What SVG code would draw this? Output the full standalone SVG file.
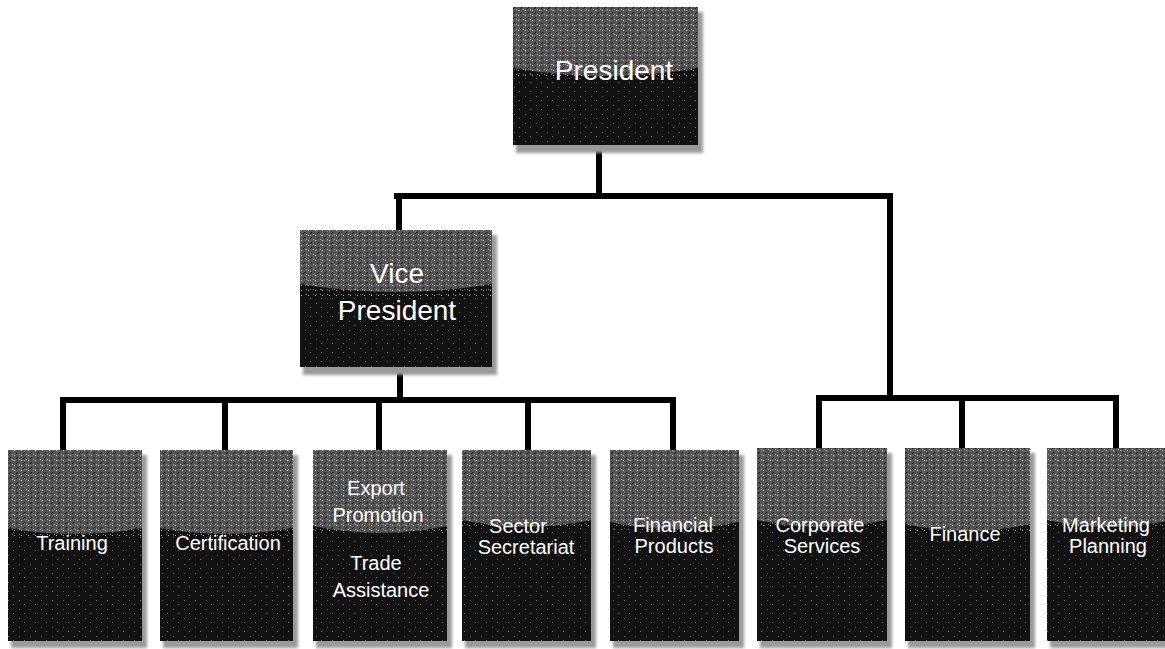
<svg xmlns="http://www.w3.org/2000/svg" width="1165" height="649" viewBox="0 0 1165 649">
<style>
.shadow{fill:#9a9a9a;filter:url(#blur)}
.body{fill:#121212}
.hl{fill:#555555}
.dots{fill:url(#dots)}
.dots2{fill:url(#dots2)}
.t{fill:#ffffff;font-family:"Liberation Sans",Arial,sans-serif;text-anchor:middle}
.big{font-size:28px}
.sm{font-size:20px}
.conn{stroke:#000;stroke-width:6;fill:none;stroke-linecap:square}
</style>
<defs>
<filter id="blur" x="-10%" y="-10%" width="120%" height="120%"><feGaussianBlur stdDeviation="1.5"/></filter>
<pattern id="dots" width="7" height="5" patternUnits="userSpaceOnUse">
<rect x="0" y="0" width="1" height="1" fill="#fff" opacity="0.7"/>
<rect x="3" y="2" width="1" height="1" fill="#000" opacity="0.8"/>
<rect x="5" y="4" width="1" height="1" fill="#fff" opacity="0.5"/>
<rect x="2" y="3" width="1" height="1" fill="#000" opacity="0.7"/>
</pattern>
<pattern id="dots2" width="11" height="9" patternUnits="userSpaceOnUse">
<rect x="2" y="1" width="1" height="1" fill="#bbb" opacity="0.6"/>
<rect x="8" y="6" width="1" height="1" fill="#999" opacity="0.6"/>
</pattern>
</defs>

<g id="connectors">
<path class="conn" d="M599 145 V196 M397 196 H890 M399 196 V230 M890 196 V398"/>
<path class="conn" d="M400 367 V400 M63 400 H673 M63 400 V450 M225 400 V450 M379 400 V450 M528 400 V450 M673 400 V450"/>
<path class="conn" d="M819 398 H1116 M819 398 V448 M962 398 V448 M1116 398 V448"/>
</g>

<g id="president">
<rect class="shadow" x="516" y="12" width="187" height="141"/>
<rect class="body" x="513" y="7" width="185" height="138"/>
<path class="hl" d="M513 7 H698 V68 Q605 84 513 68 Z"/>
<rect class="dots" x="513" y="7" width="185" height="72"/>
<rect class="dots2" x="513" y="7" width="185" height="138"/>
<text class="t big" x="614" y="80">President</text>
</g>

<g id="vice-president">
<rect class="shadow" x="303" y="235" width="194" height="140"/>
<rect class="body" x="300" y="230" width="192" height="137"/>
<path class="hl" d="M300 230 H492 V284 Q396 300 300 284 Z"/>
<rect class="dots" x="300" y="230" width="192" height="66"/>
<rect class="dots2" x="300" y="230" width="192" height="137"/>
<text class="t big" x="397" y="283">Vice</text>
<text class="t big" x="397" y="320">President</text>
</g>

<g id="training">
<rect class="shadow" x="11" y="455" width="136" height="193"/>
<rect class="body" x="8" y="450" width="134" height="191"/>
<path class="hl" d="M8 450 H142 V528 Q75 540 8 528 Z"/>
<rect class="dots" x="8" y="450" width="134" height="86"/>
<rect class="dots2" x="8" y="450" width="134" height="191"/>
<text class="t sm" x="72" y="550">Training</text>
</g>

<g id="certification">
<rect class="shadow" x="163" y="455" width="135" height="193"/>
<rect class="body" x="160" y="450" width="133" height="191"/>
<path class="hl" d="M160 450 H293 V528 Q226 540 160 528 Z"/>
<rect class="dots" x="160" y="450" width="133" height="86"/>
<rect class="dots2" x="160" y="450" width="133" height="191"/>
<text class="t sm" x="228" y="550">Certification</text>
</g>

<g id="export-promotion">
<rect class="shadow" x="316" y="455" width="136" height="193"/>
<rect class="body" x="313" y="450" width="134" height="191"/>
<path class="hl" d="M313 450 H447 V526 Q380 540 313 526 Z"/>
<rect class="dots" x="313" y="450" width="134" height="84"/>
<rect class="dots2" x="313" y="450" width="134" height="191"/>
<text class="t sm" x="376" y="495">Export</text>
<text class="t sm" x="378" y="522">Promotion</text>
<text class="t sm" x="376" y="570">Trade</text>
<text class="t sm" x="381" y="597">Assistance</text>
</g>

<g id="sector-secretariat">
<rect class="shadow" x="465" y="455" width="131" height="193"/>
<rect class="body" x="462" y="450" width="129" height="191"/>
<path class="hl" d="M462 450 H591 V520 Q526 534 462 520 Z"/>
<rect class="dots" x="462" y="450" width="129" height="78"/>
<rect class="dots2" x="462" y="450" width="129" height="191"/>
<text class="t sm" x="518" y="533">Sector</text>
<text class="t sm" x="526" y="554">Secretariat</text>
</g>

<g id="financial-products">
<rect class="shadow" x="613" y="455" width="131" height="193"/>
<rect class="body" x="610" y="450" width="129" height="191"/>
<path class="hl" d="M610 450 H739 V522 Q674 536 610 522 Z"/>
<rect class="dots" x="610" y="450" width="129" height="80"/>
<rect class="dots2" x="610" y="450" width="129" height="191"/>
<text class="t sm" x="673" y="532">Financial</text>
<text class="t sm" x="674" y="553">Products</text>
</g>

<g id="corporate-services">
<rect class="shadow" x="760" y="453" width="132" height="195"/>
<rect class="body" x="757" y="448" width="130" height="193"/>
<path class="hl" d="M757 448 H887 V520 Q822 534 757 520 Z"/>
<rect class="dots" x="757" y="448" width="130" height="80"/>
<rect class="dots2" x="757" y="448" width="130" height="193"/>
<text class="t sm" x="820" y="532">Corporate</text>
<text class="t sm" x="822" y="553">Services</text>
</g>

<g id="finance">
<rect class="shadow" x="908" y="453" width="127" height="195"/>
<rect class="body" x="905" y="448" width="125" height="193"/>
<path class="hl" d="M905 448 H1030 V524 Q967 538 905 524 Z"/>
<rect class="dots" x="905" y="448" width="125" height="84"/>
<rect class="dots2" x="905" y="448" width="125" height="193"/>
<text class="t sm" x="965" y="541">Finance</text>
</g>

<g id="marketing-planning">
<rect class="shadow" x="1050" y="453" width="127" height="195"/>
<rect class="body" x="1047" y="448" width="125" height="193"/>
<path class="hl" d="M1047 448 H1172 V520 Q1109 534 1047 520 Z"/>
<rect class="dots" x="1047" y="448" width="125" height="80"/>
<rect class="dots2" x="1047" y="448" width="125" height="193"/>
<text class="t sm" x="1106" y="532">Marketing</text>
<text class="t sm" x="1108" y="553">Planning</text>
</g>
</svg>
